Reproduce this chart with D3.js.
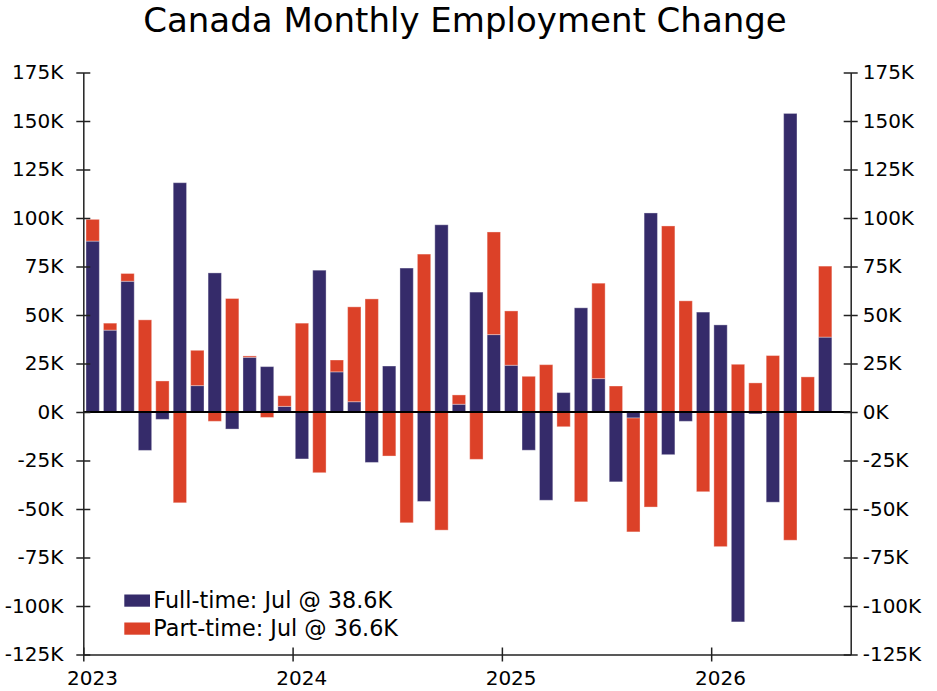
<!DOCTYPE html>
<html>
<head>
<meta charset="utf-8">
<script src="https://cdn.jsdelivr.net/npm/d3@7/dist/d3.min.js"></script>
<style>
    body { margin: 0; background: #fff; }
    svg text { font-family: Verdana, "DejaVu Sans", sans-serif; fill: #000; }
</style>
</head>
<body>
<svg class="chart" width="937" height="691"></svg>
<script>
(function () {

    'use strict';

    var months = [
        "Jan 2023", "Feb 2023", "Mar 2023", "Apr 2023", "May 2023", "Jun 2023", "Jul 2023", "Aug 2023", "Sep 2023", "Oct 2023", "Nov 2023", "Dec 2023",
        "Jan 2024", "Feb 2024", "Mar 2024", "Apr 2024", "May 2024", "Jun 2024", "Jul 2024", "Aug 2024", "Sep 2024", "Oct 2024", "Nov 2024", "Dec 2024",
        "Jan 2025", "Feb 2025", "Mar 2025", "Apr 2025", "May 2025", "Jun 2025", "Jul 2025", "Aug 2025", "Sep 2025", "Oct 2025", "Nov 2025", "Dec 2025",
        "Jan 2026", "Feb 2026", "Mar 2026", "Apr 2026", "May 2026", "Jun 2026", "Jul 2026"
    ];

    // thousands of jobs
    var fullTime = [
        88.1, 42.2, 67.4, -19.8, -3.8, 118.2, 13.6, 71.7, -8.8, 28.2, 23.4, 2.9,
        -24.2, 73.1, 20.7, 5.3, -26.0, 23.7, 74.2, -46.1, 96.5, 4.0, 61.8, 39.9,
        24.1, -19.7, -45.5, 10.0, 53.7, 17.2, -36.0, -3.1, 102.6, -22.0, -4.8, 51.5,
        44.9, -108.2, -1.0, -46.5, 153.9, 0, 38.6
    ];
    var partTime = [
        11.2, 3.6, 4.0, 47.5, 16.0, -46.8, 18.2, -4.8, 58.5, 0.7, -2.8, 5.5,
        45.8, -31.3, 6.1, 48.9, 58.3, -22.7, -57.1, 81.4, -60.9, 4.8, -24.4, 52.9,
        28.0, 18.4, 24.4, -7.6, -46.3, 49.2, 13.4, -58.7, -49.0, 95.9, 57.3, -41.1,
        -69.4, 24.6, 15.0, 29.1, -66.1, 18.1, 36.6
    ];

    var seriesNames = ["Full-time", "Part-time"];
    var yearLabels = ["2023", "2024", "2025", "2026"];
    var yTicks = [-125, -100, -75, -50, -25, 0, 25, 50, 75, 100, 125, 150, 175];

    var svg = d3.select("svg.chart");
    var left = 83.3, right = 850.7, top = 72.5, bottom = 654.5;
    var slots = 44; // axis runs one month past the last bar

    var x = d3.scaleLinear().domain([0, slots]).range([left, right]);
    var y = d3.scaleLinear().domain([-125, 175]).range([bottom, top]);
    var z = d3.scaleOrdinal().domain(["ft", "pt"]).range(["#352b6a", "#dc4128"]);

    var rows = months.map(function (m, i) { return { i: i, ft: fullTime[i], pt: partTime[i] }; });
    var stacked = d3.stack().keys(["ft", "pt"]).offset(d3.stackOffsetDiverging)(rows);

    var barGap = 0.155, barW = 0.765;

    svg.append("text")
        .attr("x", 465)
        .attr("y", 31.5)
        .attr("text-anchor", "middle")
        .attr("font-size", 34)
        .text("Canada Monthly Employment Change");

    svg.append("g")
        .selectAll("g")
        .data(stacked)
        .enter().append("g")
        .attr("fill", function (d) { return z(d.key); })
        .selectAll("rect")
        .data(function (d) { return d; })
        .enter().append("rect")
        .attr("x", function (d) { return x(d.data.i + barGap); })
        .attr("width", x(barW) - x(0))
        .attr("y", function (d) { return y(Math.max(d[0], d[1])); })
        .attr("height", function (d) { return Math.abs(y(d[0]) - y(d[1])); })
        .attr("stroke", "#fff")
        .attr("stroke-opacity", 0.35)
        .attr("stroke-width", 1);

    // zero line
    svg.append("line")
        .attr("x1", left).attr("x2", right)
        .attr("y1", y(0)).attr("y2", y(0))
        .attr("stroke", "#000")
        .attr("stroke-width", 2);

    function styleAxis(g, horizontal) {
        g.attr("font-size", 20).attr("font-family", null);
        g.select(".domain").attr("stroke", "#222").attr("stroke-width", 1.5);
        g.selectAll(".tick line").attr("stroke", "#222").attr("stroke-width", 1.5);
        if (horizontal) {
            g.selectAll(".tick line").attr("y1", -7).attr("y2", 7);
        } else {
            g.selectAll(".tick line").attr("x1", -7).attr("x2", 7);
        }
        g.selectAll(".tick text").attr("fill", "#000");
    }

    svg.append("g")
        .attr("transform", "translate(" + left + ",0)")
        .call(d3.axisLeft(y).tickValues(yTicks).tickSizeOuter(0).tickFormat(function (d) { return d + "K"; }))
        .call(function (g) { styleAxis(g, false); })
        .call(function (g) { g.selectAll(".tick text").attr("x", -20); });

    svg.append("g")
        .attr("transform", "translate(" + right + ",0)")
        .call(d3.axisRight(y).tickValues(yTicks).tickSizeOuter(0).tickFormat(function (d) { return d + "K"; }))
        .call(function (g) { styleAxis(g, false); })
        .call(function (g) { g.selectAll(".tick text").attr("x", 12); });

    svg.append("g")
        .attr("transform", "translate(0," + bottom + ")")
        .call(d3.axisBottom(x).tickValues([0, 12, 24, 36]).tickSizeOuter(0)
            .tickFormat(function (d, i) { return yearLabels[i]; }))
        .call(function (g) { styleAxis(g, true); })
        .call(function (g) {
            g.selectAll(".tick text")
                .attr("x", x(0.5) - x(0))
                .attr("y", 16);
        });

    var legendText = [
        seriesNames[0] + ": Jul @ " + fullTime[fullTime.length - 1].toFixed(1) + "K",
        seriesNames[1] + ": Jul @ " + partTime[partTime.length - 1].toFixed(1) + "K"
    ];

    var legend = svg.append("g")
        .attr("font-size", 22.3)
        .selectAll("g")
        .data(["ft", "pt"])
        .enter().append("g")
        .attr("transform", function (d, i) { return "translate(124.3," + (594.5 + i * 28) + ")"; });

    legend.append("rect")
        .attr("width", 25.7)
        .attr("height", 12.2)
        .attr("fill", z);

    legend.append("text")
        .attr("x", 29)
        .attr("y", 13)
        .text(function (d, i) { return legendText[i]; });

})();
</script>
</body>
</html>
